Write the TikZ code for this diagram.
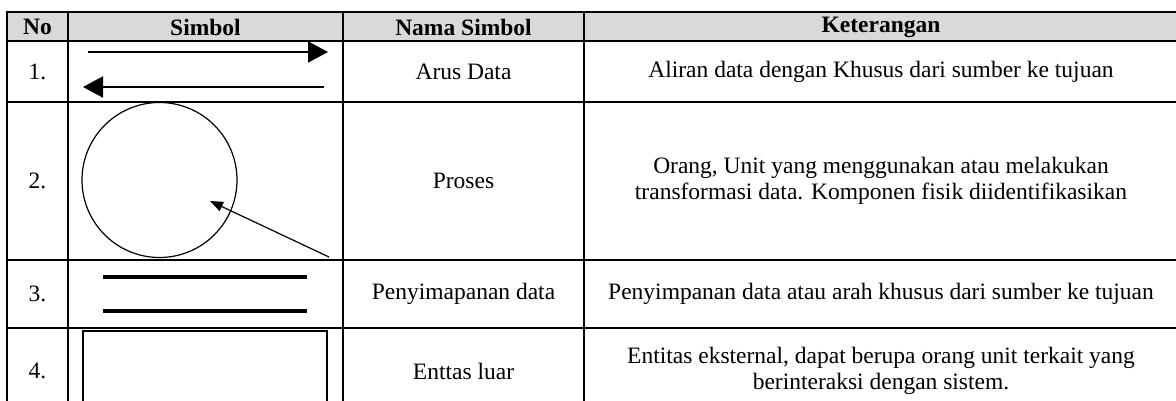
\documentclass[tikz,border=0pt]{standalone}
\usepackage{fontspec}
\setmainfont{Liberation Serif}
\usepackage{tikz}
\usetikzlibrary{arrows.meta}
\usepackage{xcolor}
\definecolor{head-grey}{RGB}{217,217,217}
\tikzstyle{grid}=[line width=2.3pt]
\tikzstyle{cell}=[font=\fontsize{23.5}{26}\selectfont, align=center, inner sep=0pt]
\tikzstyle{head}=[cell, font=\fontsize{23.5}{26}\selectfont\bfseries]
\tikzstyle{flow}=[line width=2pt, -{Triangle[length=20pt,width=21pt]}]
\tikzstyle{pointer}=[line width=1.2pt, -{Triangle[length=13pt,width=10pt]}]
\tikzstyle{store}=[line width=3.4pt]
\newcommand{\tabRow}[5]{
	\node[cell] (no#2) at (37.5,#1) {#3};
	\node[cell] (nama#2) at (463.5,#1) {#4};
	\node[cell] (ket#2) at (881,#1) {#5};
}

\begin{document}
\begin{tikzpicture}[x=1pt,y=-1pt]
	\clip (0,0) rectangle (1176,401);
	\fill[head-grey] (7,12) rectangle (1176,41);
	% grid
	\foreach \y in {12,41,102,260,328}
		\draw[grid] (5.85,\y) -- (1176,\y);
	\foreach \x in {7,68,343,584}
		\draw[grid] (\x,12) -- (\x,405);
	% header
	\node[head] (hNo) at (37.5,27) {No};
	\node[head] (hSimbol) at (205.5,27) {Simbol};
	\node[head] (hNama) at (463.5,27) {Nama Simbol};
	\node[head] (hKet) at (881,27) {Keterangan};
	% rows
	\tabRow{72}{1}{1.}{Arus Data}{Aliran data dengan Khusus dari sumber ke tujuan}
	\tabRow{181}{2}{2.}{Proses}{Orang, Unit yang menggunakan atau melakukan\\transformasi data. Komponen fisik diidentifikasikan}
	\tabRow{294}{3}{3.}{Penyimapanan data}{Penyimpanan data atau arah khusus dari sumber ke tujuan}
	\tabRow{371}{4}{4.}{Enttas luar}{Entitas eksternal, dapat berupa orang unit terkait yang\\berinteraksi dengan sistem.}
	% symbol 1: arus data
	\coordinate (arusA) at (88,52);
	\coordinate (arusB) at (328,52);
	\coordinate (arusC) at (324,87);
	\coordinate (arusD) at (83,87);
	\draw[flow] (arusA) -- (arusB);
	\draw[flow] (arusC) -- (arusD);
	% symbol 2: proses
	\node[draw, circle, line width=1.2pt, minimum size=155pt, inner sep=0pt] (proses) at (159.5,180) {};
	\coordinate (prosesA) at (329,257);
	\coordinate (prosesB) at (210,201);
	\draw[pointer] (prosesA) -- (prosesB);
	% symbol 3: penyimpanan
	\draw[store] (103,277) -- (307,277);
	\draw[store] (103,311) -- (307,311);
	% symbol 4: entitas luar
	\draw[line width=2.2pt] (83,405) -- (83,331) -- (327,331) -- (327,405);
\end{tikzpicture}
\end{document}
